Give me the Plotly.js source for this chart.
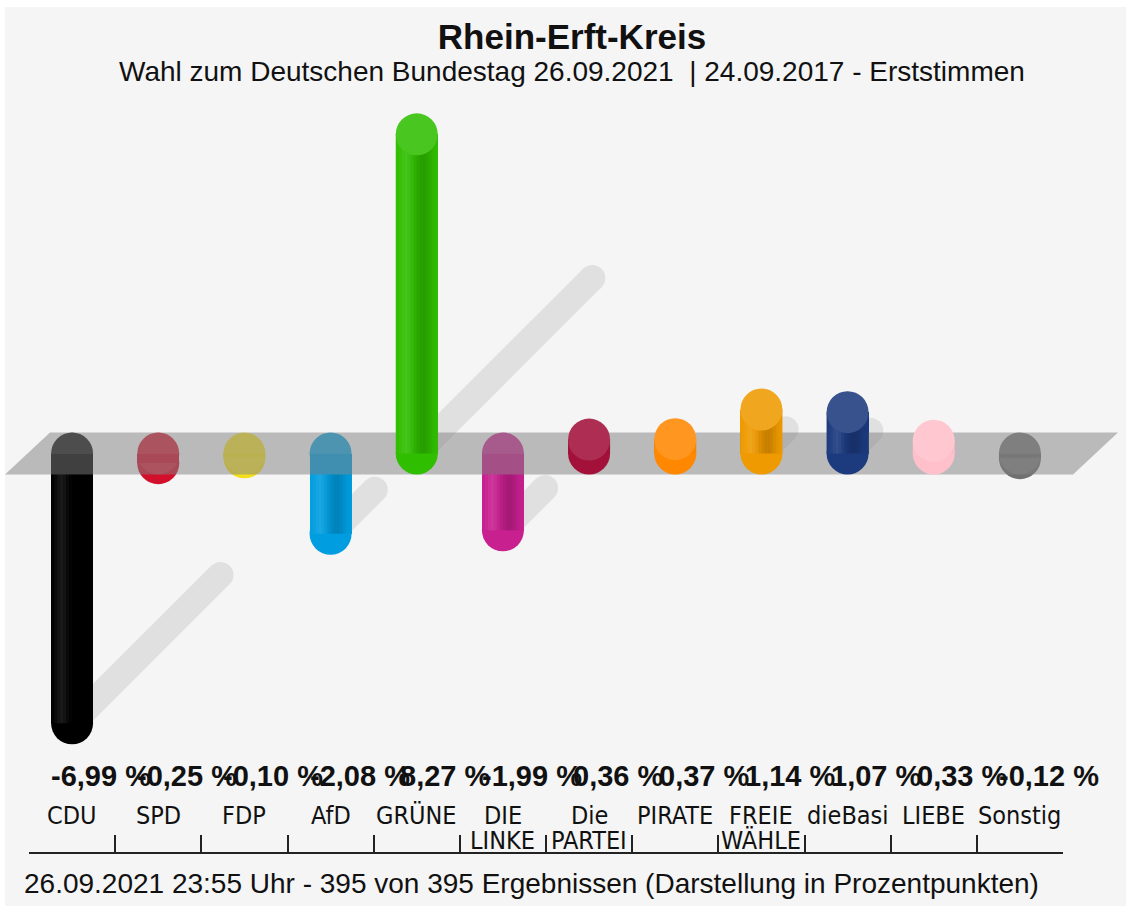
<!DOCTYPE html>
<html><head><meta charset="utf-8">
<script src="https://cdn.plot.ly/plotly-3.0.1.min.js"></script>
<style>html,body{margin:0;padding:0;background:#ffffff;} #chart{position:absolute;left:5px;top:7px;width:1121px;height:899px;}</style>
</head><body><div id="chart"></div>
<script>
// ---- data ----
const categories = ['CDU','SPD','FDP','AfD','GRÜNE','DIE LINKE','Die PARTEI','PIRATE','FREIE WÄHLE','dieBasi','LIEBE','Sonstig'];
const diffValues = [-6.99,-0.25,-0.10,-2.08,8.27,-1.99,0.36,0.37,1.14,1.07,0.33,-0.12];
const partyColors = ['#000000','#d3102c','#f4e01a','#009ee0','#30be00','#c8208f','#a3103a','#ff8800','#ef9a00','#1c3a7e','#ffc0cb','#707070'];
const titleText = 'Rhein-Erft-Kreis';
const subtitleText = 'Wahl zum Deutschen Bundestag 26.09.2021 \u00a0| 24.09.2017 - Erststimmen';
const footerText = '26.09.2021 23:55 Uhr - 395 von 395 Ergebnissen (Darstellung in Prozentpunkten)';

// ---- layout geometry ----
const W = 1121, H = 899, ML = 24, MR = 63, MT = 88, MB = 53;
const OX = 5, OY = 7;
const plotW = W - ML - MR, plotH = H - MT - MB;
const dom0 = 0.1293;
const yMin = -7.811, yMax = 9.288;
const n = categories.length;
const pxX = plotW / n;
const pxY = plotH * (1 - dom0) / (yMax - yMin);
const R = 21;                 // capsule radius in px
const rx = R / pxX, ry = R / pxY;
const pX = p => (p - OX - ML) / plotW;
const pY = p => (H - MB - (p - OY)) / plotH;
const yToPaper = v => dom0 + (v - yMin) / (yMax - yMin) * (1 - dom0);

function lighten(hex, f) {
  const c = parseInt(hex.slice(1), 16);
  let r = (c >> 16) & 255, g = (c >> 8) & 255, b = c & 255;
  r = Math.round(r + (255 - r) * f); g = Math.round(g + (255 - g) * f); b = Math.round(b + (255 - b) * f);
  return `rgb(${r},${g},${b})`;
}
function circle(xc, yc, col, layer, rpx) {
  const ax = (rpx || R) / pxX, ay = (rpx || R) / pxY;
  return {type:'circle', xref:'x', yref:'y', layer:layer, x0:xc-ax, x1:xc+ax, y0:yc-ay, y1:yc+ay,
          fillcolor:col, line:{width:0}};
}
function rect(xa, xb, ya, yb, col, layer) {
  return {type:'rect', xref:'x', yref:'y', layer:layer, x0:xa, x1:xb, y0:Math.min(ya,yb), y1:Math.max(ya,yb),
          fillcolor:col, line:{width:0}};
}
// smooth cylinder shading made of thin vertical slices
function shading(i, ya, yb, out) {
  const nS = 14, sw = 2 * R / nS;
  for (let s = 0; s < nS; s++) {
    const t = ((s + 0.5) * sw - R) / R;
    const a = 0.17 * Math.exp(-Math.pow((t - 0.3) / 0.42, 2));
    const b = 0.10 * Math.exp(-Math.pow((t + 0.5) / 0.3, 2));
    const xa = i + (s * sw - R) / pxX, xb = i + ((s + 1) * sw - R) / pxX;
    if (a > 0.01) out.push(rect(xa, xb, ya, yb, `rgba(0,0,0,${a.toFixed(3)})`, 'above'));
    if (b > 0.01) out.push(rect(xa, xb, ya, yb, `rgba(255,255,255,${b.toFixed(3)})`, 'above'));
  }
}

const shapes = [];
const shadowCol = '#e0e0e0';
const k = 0.55;
// shadows
diffValues.forEach((v, i) => {
  const lenPx = Math.abs(v) * pxY;
  const y0 = v > 0 ? 0 : v;
  const x1 = i + k * lenPx / pxX, y1 = y0 + k * Math.abs(v);
  shapes.push({type:'line', xref:'x', yref:'y', layer:'below', x0:i, y0:y0, x1:x1, y1:y1,
               line:{color:shadowCol, width:26}});
  shapes.push(circle(x1, y1, shadowCol, 'below', 13));
});
// caps of negative bars (under the plane)
diffValues.forEach((v, i) => {
  if (v < 0) {
    shapes.push(circle(i, v, partyColors[i], 'below'));
    shapes.push(circle(i, 0, lighten(partyColors[i], 0.10), 'below'));
  }
});
// plane band
const bandTop = yToPaper(R / pxY), bandBot = yToPaper(-R / pxY);
const slant = 45 / plotW;
const bl = pX(5), br = pX(1073);
shapes.push({type:'path', xref:'paper', yref:'paper', layer:'above',
  path:`M ${bl} ${bandBot} L ${bl + slant} ${bandTop} L ${br + slant} ${bandTop} L ${br} ${bandBot} Z`,
  fillcolor:'rgba(128,128,128,0.5)', line:{width:0}});
// positive bars on top of plane, shading on visible bodies
diffValues.forEach((v, i) => {
  if (v > 0) {
    shapes.push(circle(i, 0, partyColors[i], 'above'));
    shapes.push(rect(i - rx, i + rx, 0, v, partyColors[i], 'above'));
    shading(i, 0, v, shapes);
    shapes.push(circle(i, v, lighten(partyColors[i], 0.12), 'above'));
  } else if (v < -ry) {
    shading(i, -ry, v, shapes);
  }
});

// ---- annotations ----
const annotations = [];
const txtFont = 'Liberation Sans, Arial, sans-serif';
annotations.push({xref:'paper', yref:'paper', x:pX(572), y:pY(71), xanchor:'center', yanchor:'middle',
  text:subtitleText, showarrow:false, font:{family:txtFont, size:28, color:'#111'}});
annotations.push({xref:'paper', yref:'paper', x:pX(22), y:pY(883), xanchor:'left', yanchor:'middle',
  text:footerText, showarrow:false, font:{family:txtFont, size:28, color:'#111'}});
diffValues.forEach((v, i) => {
  annotations.push({xref:'x', yref:'paper', x:i + 29 / pxX, y:pY(776), xanchor:'center', yanchor:'middle',
    text:v.toFixed(2).replace('.', ',') + ' %', showarrow:false,
    font:{family:txtFont, size:29, color:'#111', weight:'bold'}});
});
const catFont = {family:'Liberation Sans Narrow, Arial Narrow, DejaVu Sans Condensed, sans-serif', size:25, color:'#111'};
categories.forEach((c, i) => {
  const sp = c.indexOf(' ');
  const l1 = sp > 0 ? c.slice(0, sp) : c;
  const l2 = sp > 0 ? c.slice(sp + 1) : '';
  annotations.push({xref:'x', yref:'paper', x:i, y:pY(815), xanchor:'center', yanchor:'middle',
    text:l1, showarrow:false, font:catFont});
  if (l2) annotations.push({xref:'x', yref:'paper', x:i, y:pY(840), xanchor:'center', yanchor:'middle',
    text:l2, showarrow:false, font:catFont});
});

const trace = {
  type:'bar', x:categories.map((c, i) => i), y:diffValues, base:0, width:2 * rx,
  marker:{color:partyColors, line:{width:0}}, hovertext:categories, hoverinfo:'text+y', showlegend:false
};

const tickvals = [];
for (let i = 0; i <= n; i++) tickvals.push(i - 0.5);

const layout = {
  width:W, height:H, paper_bgcolor:'#f5f5f5', plot_bgcolor:'rgba(0,0,0,0)',
  margin:{l:ML, r:MR, t:MT, b:MB},
  title:{text:'<b>' + titleText + '</b>', x:(572 - OX) / W, xanchor:'center', y:1 - (37 - OY) / H, yanchor:'middle',
         yref:'container', xref:'container', font:{family:txtFont, size:35, color:'#111'}},
  xaxis:{type:'linear', range:[-0.5, n - 0.5], anchor:'free', position:0, showline:true, linecolor:'#222', linewidth:2,
         ticks:'inside', tickvals:tickvals, ticklen:17, tickwidth:2, tickcolor:'#222', showticklabels:false,
         showgrid:false, zeroline:false, fixedrange:true},
  yaxis:{domain:[dom0, 1], range:[yMin, yMax], visible:false, showgrid:false, zeroline:false, fixedrange:true},
  bargap:0, shapes:shapes, annotations:annotations, showlegend:false
};

Plotly.newPlot('chart', [trace], layout, {displayModeBar:false, staticPlot:true});
</script></body></html>
